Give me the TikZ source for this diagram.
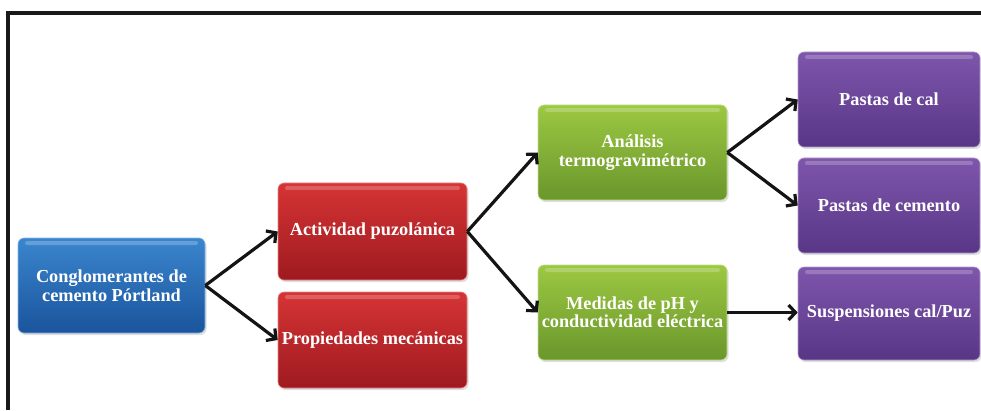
\documentclass[tikz,border=0pt]{standalone}
\usepackage{fontspec}
\setmainfont{Liberation Serif}
\usetikzlibrary{arrows.meta,shadows}
\definecolor{bluetop}{RGB}{58,134,206}
\definecolor{bluebot}{RGB}{26,84,156}
\definecolor{redtop}{RGB}{214,52,52}
\definecolor{redbot}{RGB}{158,26,32}
\definecolor{greentop}{RGB}{156,200,66}
\definecolor{greenbot}{RGB}{106,150,44}
\definecolor{purptop}{RGB}{126,86,172}
\definecolor{purpbot}{RGB}{88,54,134}
\tikzset{
  box/.style args={#1/#2}{rectangle, rounded corners=6pt, top color=#1, bottom color=#2,
    draw=#1!60!white, line width=0.6pt,
    drop shadow={opacity=0.25, shadow xshift=1.5pt, shadow yshift=-2pt},
    text=white, font=\bfseries\fontsize{18.3}{18.5}\selectfont, align=center,
    inner sep=1pt,
    path picture={\fill[white,opacity=0.22,rounded corners=2pt]
      ([xshift=7pt,yshift=-3pt]path picture bounding box.north west) rectangle
      ([xshift=-7pt,yshift=-7pt]path picture bounding box.north east);}},
  bluebox/.style={box=bluetop/bluebot},
  redbox/.style={box=redtop/redbot},
  greenbox/.style={box=greentop/greenbot},
  purpbox/.style={box=purptop/purpbot},
  conn/.style={line width=3.2pt, -{Straight Barb[length=7pt,width=15pt]}, black!92}
}
\begin{document}
\begin{tikzpicture}[x=1pt,y=1pt]
\useasboundingbox (0,0) rectangle (981,410);
% frame
\draw[line width=4pt, black!90] (8,0) -- (8,397) -- (981,397);
\draw[line width=4pt, black!90] (6,397) -- (8,397);
% nodes
\node[bluebox, minimum width=187pt, minimum height=95pt] (c) at (111.5,124.5) {Conglomerantes de\\cemento Pórtland};
\node[redbox, minimum width=189pt, minimum height=97pt] (a) at (372.5,178.5) {Actividad puzolánica};
\node[redbox, minimum width=189pt, minimum height=96pt] (p) at (372.5,70) {Propiedades mecánicas};
\node[greenbox, minimum width=189pt, minimum height=95pt] (t) at (632.5,257.5) {Análisis\\termogravimétrico};
\node[greenbox, minimum width=189pt, minimum height=95pt] (m) at (632.5,97.5) {Medidas de pH y\\conductividad eléctrica};
\node[purpbox, minimum width=182pt, minimum height=95pt] (pc) at (889,310.5) {Pastas de cal};
\node[purpbox, minimum width=182pt, minimum height=95pt] (pm) at (889,204.5) {Pastas de cemento};
\node[purpbox, minimum width=182pt, minimum height=93pt] (s) at (889,96.5) {Suspensiones cal/Puz};
% connectors
\draw[conn] (c.east) -- (a.west);
\draw[conn] (c.east) -- (p.west);
\draw[conn] (a.east) -- (t.west);
\draw[conn] (a.east) -- (m.west);
\draw[conn] (t.east) -- (pc.west);
\draw[conn] (t.east) -- (pm.west);
\draw[conn] (m.east) -- (m.east -| s.west);
\end{tikzpicture}
\end{document}
